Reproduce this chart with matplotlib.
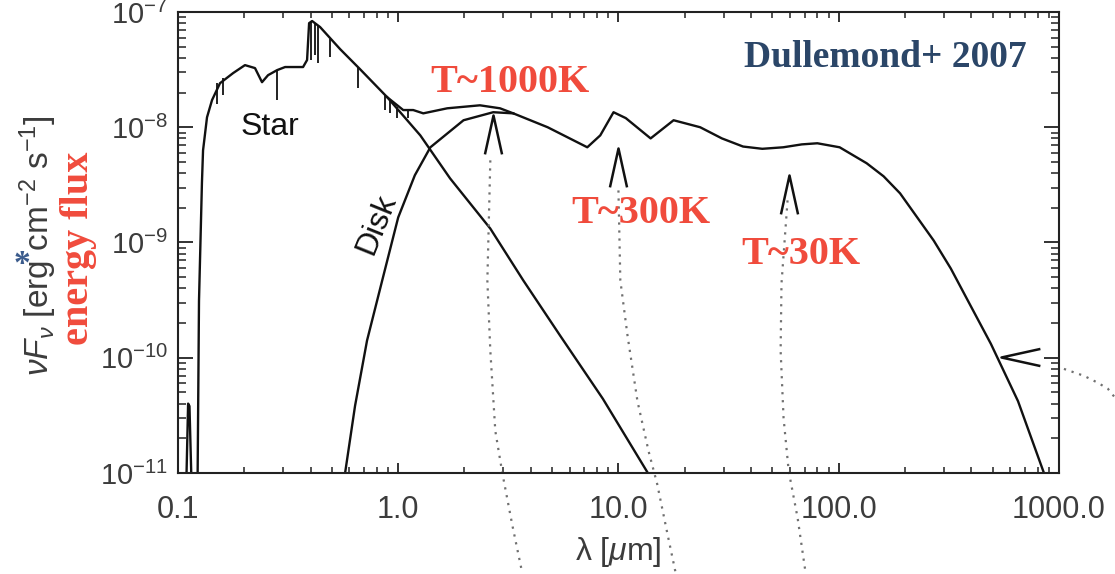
import numpy as np
import matplotlib
matplotlib.use('Agg')
import matplotlib.pyplot as plt
from matplotlib.path import Path
from matplotlib.ticker import FuncFormatter, LogLocator, NullFormatter

plt.rcParams['font.family'] = ['Liberation Sans', 'DejaVu Sans']
plt.rcParams['mathtext.fontset'] = 'custom'
plt.rcParams['mathtext.rm'] = 'Liberation Sans'
plt.rcParams['mathtext.it'] = 'Liberation Sans:italic'
plt.rcParams['mathtext.bf'] = 'Liberation Sans:bold'

# wavelength [um] and nu F_nu [erg cm^-2 s^-1]
star_lam = [0.1085, 0.1112, 0.1128, 0.1160, 0.1225, 0.1246, 0.1285, 0.130, 0.1355,
            0.1428, 0.1552, 0.178, 0.2015, 0.2238, 0.2408, 0.2565, 0.2819, 0.3066,
            0.3699, 0.3857, 0.394, 0.4065, 0.442, 0.545, 0.671, 0.892, 1.26, 1.72,
            2.62, 3.70, 5.43, 8.5, 13.6, 15.0]
star_flux = [5e-12, 4.0e-11, 3.8e-11, 5e-12, 5e-12, 3.1e-10, 3.3e-9, 6.3e-9, 1.22e-8,
             1.72e-8, 2.41e-8, 2.95e-8, 3.46e-8, 3.26e-8, 2.46e-8, 2.83e-8, 3.13e-8, 3.33e-8,
             3.33e-8, 3.83e-8, 8.0e-8, 8.35e-8, 7.4e-8, 4.76e-8, 3.19e-8, 1.82e-8, 8.5e-9, 3.6e-9,
             1.32e-9, 4.68e-10, 1.56e-10, 4.4e-11, 1.0e-11, 7e-12]

# absorption lines in the stellar spectrum
line_lam = [0.150, 0.160, 0.282, 0.402, 0.420, 0.433, 0.491, 0.658, 0.874, 0.92, 0.99, 1.11]
line_top = [2.4e-8, 2.7e-8, 3.13e-8, 8.2e-8, 7.9e-8, 7.6e-8, 5.8e-8, 3.3e-8, 1.9e-8, 1.7e-8, 1.5e-8, 1.4e-8]
line_bot = [1.6e-8, 1.9e-8, 1.72e-8, 3.83e-8, 4.2e-8, 3.6e-8, 4.06e-8, 2.18e-8, 1.41e-8, 1.32e-8, 1.2e-8, 1.2e-8]

disk_lam = [0.56, 0.574, 0.637, 0.722, 0.846, 1.0, 1.19, 1.40, 1.98, 2.70, 3.33, 4.77,
            7.22, 8.27, 9.5, 10.8, 14.0, 17.8, 23.5, 29.5, 36.8, 45.0, 56.0, 68.0, 80.0,
            101, 134, 160, 190, 270, 323, 386, 491, 652, 855, 900]
disk_flux = [7e-12, 1.0e-11, 3.83e-11, 1.41e-10, 4.68e-10, 1.65e-9, 3.83e-9, 6.7e-9, 1.15e-8,
             1.35e-8, 1.32e-8, 1.0e-8, 6.7e-9, 8.5e-9, 1.35e-8, 1.2e-8, 8.0e-9, 1.15e-8, 1.0e-8,
             8.0e-9, 6.8e-9, 6.5e-9, 6.7e-9, 7.1e-9, 7.26e-9, 6.7e-9, 4.87e-9, 3.75e-9, 2.67e-9,
             1.04e-9, 5.94e-10, 3.13e-10, 1.32e-10, 4.2e-11, 1.0e-11, 7e-12]

# star + disk where both contribute
total_lam = [0.892, 1.054, 1.17, 1.30, 1.67, 2.35, 2.90, 3.33]
total_flux = [1.82e-8, 1.41e-8, 1.41e-8, 1.32e-8, 1.46e-8, 1.55e-8, 1.46e-8, 1.32e-8]

# arrows and dotted tracks
caret_lam = [2.70, 10.0, 59.8]
caret_flux = [1.27e-8, 6.56e-9, 3.83e-9]
side_lam = [545]
side_flux = [1.02e-10]

track1_lam = [2.62, 2.54, 2.62, 2.76, 2.97, 3.30, 3.66]
track1_flux = [5.16e-9, 4.68e-10, 1.15e-10, 2.32e-11, 1e-11, 3.5e-12, 1.35e-12]
track2_lam = [10.0, 10.2, 11.0, 12.2, 13.7, 15.0, 16.7, 18.2]
track2_flux = [2.83e-9, 4.68e-10, 1.55e-10, 4.2e-11, 1.55e-11, 8.0e-12, 2.95e-12, 1.35e-12]
track3_lam = [58.6, 55.0, 54.5, 56.2, 59.3, 65.1, 70.8]
track3_flux = [2.32e-9, 4.4e-10, 1.15e-10, 3.0e-11, 1.04e-11, 4.07e-12, 1.35e-12]
track4_lam = [1054, 1299, 1503, 1670, 1815]
track4_flux = [8.0e-11, 6.97e-11, 6.06e-11, 5.37e-11, 4.4e-11]

xtick_vals = [0.1, 1.0, 10.0, 100.0, 1000.0]

red = '#f04b3c'
navy = '#2b4668'
grey = '#3c3c3c'

fig = plt.figure(figsize=(11.15, 5.74), dpi=100)
ax = fig.add_axes([0.1596, 0.1760, 0.7901, 0.8031])
ax.set_xscale('log')
ax.set_yscale('log')
ax.set_xlim(0.1, 1000)
ax.set_ylim(1e-11, 1e-7)

lc = '#111111'
ax.plot(star_lam, star_flux, color=lc, lw=1.7)
ax.vlines(line_lam, line_bot, line_top, color=lc, lw=1.3)
ax.plot(disk_lam, disk_flux, color=lc, lw=1.7)
ax.plot(total_lam, total_flux, color=lc, lw=1.7)

for tl, tf in [(track1_lam, track1_flux), (track2_lam, track2_flux),
               (track3_lam, track3_flux), (track4_lam, track4_flux)]:
    ax.plot(tl, tf, color='#707070', lw=1.6, dashes=(1, 2.6), clip_on=False)

caret = Path([(-0.22, -1), (0, 0), (0.22, -1)], [Path.MOVETO, Path.LINETO, Path.LINETO])
left_caret = Path([(1, 0.22), (0, 0), (1, -0.22)], [Path.MOVETO, Path.LINETO, Path.LINETO])
ax.plot(caret_lam, caret_flux, ls='none', marker=caret, ms=56, mfc='none', mec=lc, mew=1.8)
ax.plot(side_lam, side_flux, ls='none', marker=left_caret, ms=56, mfc='none', mec=lc, mew=1.8)

ax.text(0.262, 8.5e-9, 'Star', fontsize=23, ha='center', va='baseline', color=lc)
ax.text(0.80, 1.45e-9, 'Disk', fontsize=23, ha='center', va='center', rotation=68,
        rotation_mode='anchor', color=lc)

serif = dict(family='Liberation Serif', weight='bold')
ax.text(3.23, 2.02e-8, 'T~1000K', fontsize=29, color=red, ha='center', va='baseline', **serif)
ax.text(12.6, 1.49e-9, 'T~300K', fontsize=29, color=red, ha='center', va='baseline', **serif)
ax.text(67.1, 6.56e-10, 'T~30K', fontsize=29, color=red, ha='center', va='baseline', **serif)
ax.text(163.6, 3.33e-8, 'Dullemond+ 2007', fontsize=27, color=navy, ha='center', va='baseline', **serif)

for s in ax.spines.values():
    s.set_linewidth(1.5)
    s.set_color('#222222')

ax.xaxis.set_major_locator(LogLocator(base=10))
ax.xaxis.set_minor_locator(LogLocator(base=10, subs=np.arange(2, 10)))
ax.yaxis.set_major_locator(LogLocator(base=10))
ax.yaxis.set_minor_locator(LogLocator(base=10, subs=np.arange(2, 10)))
ax.set_xticks(xtick_vals)
ax.xaxis.set_major_formatter(FuncFormatter(lambda v, p: '%.1f' % v))
ax.xaxis.set_minor_formatter(NullFormatter())
ax.yaxis.set_minor_formatter(NullFormatter())

ax.tick_params(which='both', direction='in', top=True, right=True, color='#222222', labelcolor=grey)
ax.tick_params(axis='x', which='major', length=7, width=1.3, labelsize=22, pad=16)
ax.tick_params(axis='x', which='minor', length=4, width=1.1)
ax.tick_params(axis='y', which='major', length=11, width=1.3, labelsize=21, pad=7)
ax.tick_params(axis='y', which='minor', length=6, width=1.1)

ax.set_xlabel(r'λ [$\mu$m]', fontsize=23, color=grey)
ax.xaxis.set_label_coords(0.5, -0.135)
ax.xaxis.label.set_va('top')

fig.text(0.0341, 0.573, r'$\nu F_\nu$ [erg cm$^{-2}$ s$^{-1}$]', fontsize=24, color=grey,
         rotation=90, ha='center', va='center')
fig.text(0.070, 0.568, 'energy flux', fontsize=29, color=red, rotation=90,
         ha='center', va='center', **serif)
fig.text(0.0197, 0.5244, '*', fontsize=24, color='#3b5b8c', ha='center', va='baseline',
         family='Liberation Serif', weight='bold')

fig.savefig('out.png', dpi=100)
